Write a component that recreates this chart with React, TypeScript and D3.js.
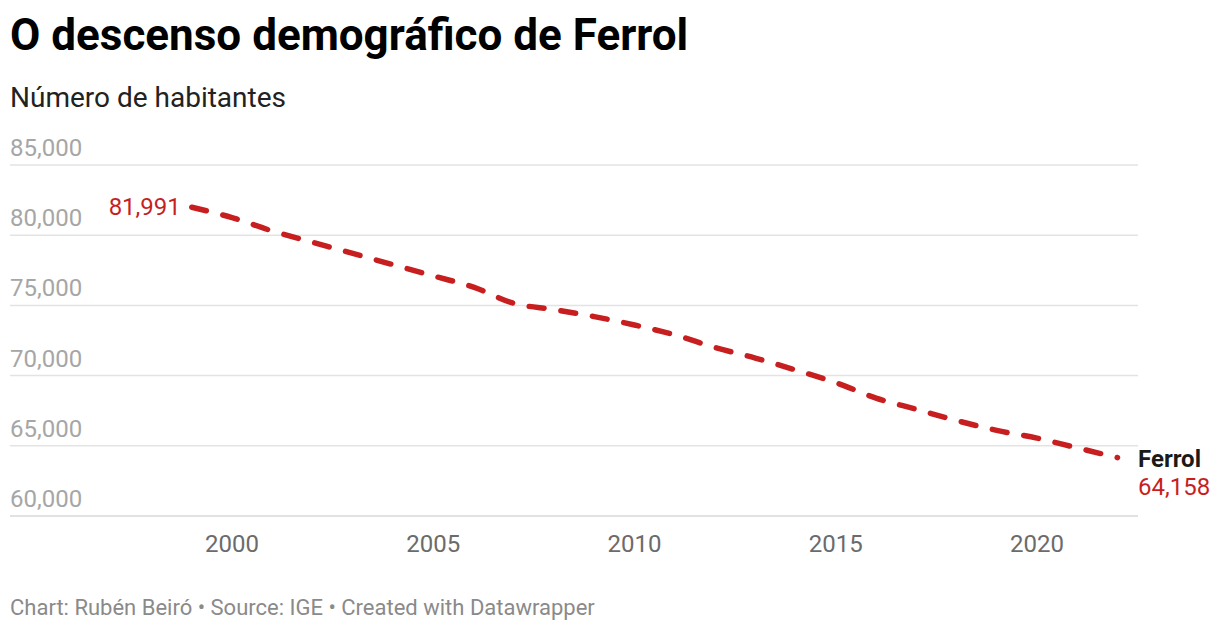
import * as d3 from "d3"
import { useRef, useEffect } from "react"

const years = [
  1999, 2000, 2001, 2002, 2003, 2004, 2005, 2006, 2007, 2008, 2009, 2010,
  2011, 2012, 2013, 2014, 2015, 2016, 2017, 2018, 2019, 2020, 2021, 2022,
]
const population = [
  81991, 81250, 80300, 79500, 78700, 77900, 77100, 76300, 75150, 74700, 74200, 73600,
  72900, 72000, 71250, 70400, 69500, 68400, 67600, 66800, 66100, 65550, 64850, 64158,
]
const yTicks = [60000, 65000, 70000, 75000, 80000, 85000]
const xTicks = [2000, 2005, 2010, 2015, 2020]

const title = "O descenso demográfico de Ferrol"
const subtitle = "Número de habitantes"
const footer = "Chart: Rubén Beiró • Source: IGE • Created with Datawrapper"
const seriesName = "Ferrol"

const width = 1220
const height = 632
const red = "#c71f1f"

export default function App() {
  const svgRef = useRef<SVGSVGElement>(null)

  useEffect(() => {
    document.body.style.margin = "0"
    if (!svgRef.current) return
    const svg = d3.select(svgRef.current)
    svg.selectAll("*").remove()
    svg.style("font-family", "Roboto")

    const x = d3.scaleLinear().domain([1999, 2022]).range([191.8, 1117.5])
    const y = d3.scaleLinear().domain([60000, 85000]).range([516, 165])
    const fmt = d3.format(",")

    svg.append("text").attr("x", 10).attr("y", 50)
      .attr("font-size", 44).attr("font-weight", 700).attr("fill", "#000")
      .text(title)

    svg.append("text").attr("x", 10).attr("y", 107)
      .attr("font-size", 28).attr("fill", "#222")
      .text(subtitle)

    const grid = svg.append("g")
    grid.selectAll("line").data(yTicks).enter().append("line")
      .attr("x1", 10).attr("x2", 1138)
      .attr("y1", (d) => y(d)).attr("y2", (d) => y(d))
      .attr("stroke", (d) => (d === 60000 ? "#d9d9d9" : "#e3e3e3"))
      .attr("stroke-width", 1.5)

    grid.selectAll("text").data(yTicks).enter().append("text")
      .attr("x", 10).attr("y", (d) => y(d) - 9)
      .attr("font-size", 24).attr("fill", "#a6a6a6")
      .text((d) => fmt(d))

    svg.append("g").selectAll("text").data(xTicks).enter().append("text")
      .attr("x", (d) => x(d)).attr("y", 552)
      .attr("text-anchor", "middle")
      .attr("font-size", 24).attr("fill", "#6b6b6b")
      .text((d) => String(d))

    const pts = years.map((yr, i) => [yr, population[i]] as [number, number])
    const line = d3.line<[number, number]>()
      .x((d) => x(d[0])).y((d) => y(d[1]))
      .curve(d3.curveMonotoneX)

    svg.append("path").attr("d", line(pts) || "")
      .attr("fill", "none").attr("stroke", red)
      .attr("stroke-width", 5.5).attr("stroke-linecap", "round")
      .attr("stroke-dasharray", "15 17")

    const first = pts[0]
    const last = pts[pts.length - 1]
    svg.append("text").attr("x", x(first[0]) - 11).attr("y", y(first[1]) + 8)
      .attr("text-anchor", "end").attr("font-size", 24).attr("fill", red)
      .text(fmt(first[1]))

    svg.append("text").attr("x", 1138).attr("y", y(last[1]) + 9)
      .attr("font-size", 24).attr("font-weight", 700).attr("fill", "#1a1a1a")
      .text(seriesName)
    svg.append("text").attr("x", 1138).attr("y", y(last[1]) + 37)
      .attr("font-size", 24).attr("fill", red)
      .text(fmt(last[1]))

    svg.append("text").attr("x", 10).attr("y", 615)
      .attr("font-size", 22).attr("fill", "#8a8a8a")
      .text(footer)
  }, [])

  return <svg ref={svgRef} width={width} height={height} style={{ display: "block" }}></svg>
}
